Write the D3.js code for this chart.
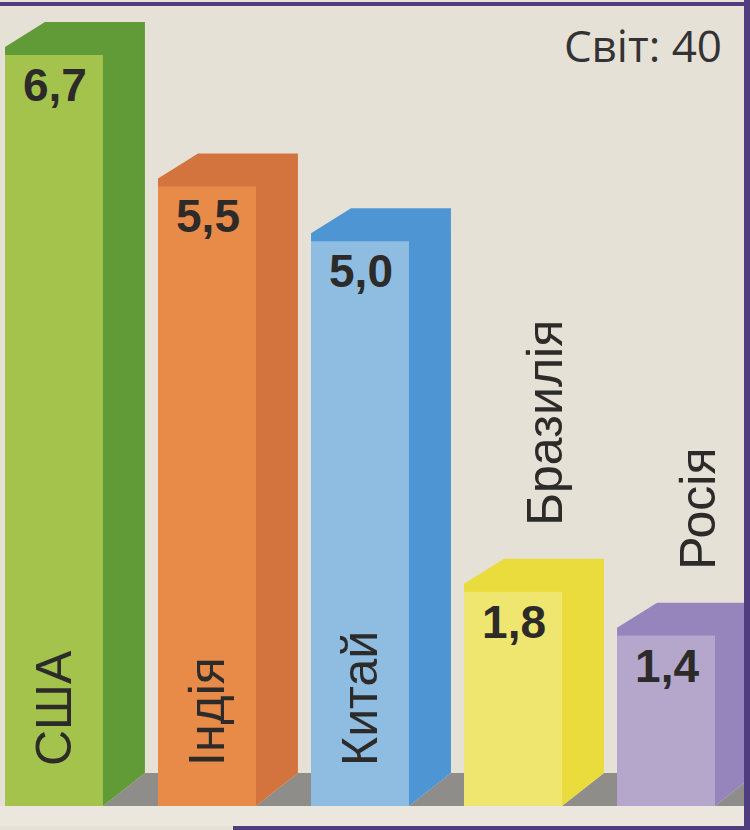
<!DOCTYPE html>
<html>
<head>
<meta charset="utf-8">
<script src="https://cdn.jsdelivr.net/npm/d3@7"></script>
<style>
  html, body { margin: 0; padding: 0; background: #e6e1d7; }
  #my_dataviz { width: 750px; height: 830px; }
</style>
</head>
<body>
<div id="my_dataviz"></div>
<script>
// data //
const countries = ["США", "Індія", "Китай", "Бразилія", "Росія"];
const values = [6.7, 5.5, 5.0, 1.8, 1.4];
const worldLabel = "Світ";
const worldTotal = 40;

// colours: light front face, darker side + top
const frontColors = ["#a4c34c", "#e98b48", "#8fbde2", "#eee66e", "#b5a7cc"];
const sideColors  = ["#619b37", "#d3743f", "#4e96d3", "#e9dc3c", "#9685bd"];

const data = countries.map((c, i) => ({ name: c, value: values[i], front: frontColors[i], side: sideColors[i] }));

/// set dimensions //////////////////////////////////////////////////
const width = 750;
const height = 830;
const base = 806;      // floor line (front bottom of the boxes)
const depthX = 42;     // 3d depth offset
const depthY = 33;

const svg = d3.select("#my_dataviz").append("svg")
  .attr("width", width)
  .attr("height", height);

// paper background
svg.append("rect")
  .attr("width", width)
  .attr("height", height)
  .attr("fill", "#e6e1d7");

// floor strip under the boxes
svg.append("rect")
  .attr("x", 0)
  .attr("y", base)
  .attr("width", width)
  .attr("height", 20)
  .attr("fill", "#ebe7df");

// X scale (front faces)
const x = d3.scaleBand()
  .domain(countries)
  .range([5, 715])
  .paddingInner(0.36)
  .paddingOuter(0);

// Y scale
const y = d3.scaleLinear()
  .domain([0, 6.7])
  .range([789, 55]);

const bw = x.bandwidth();
const gap = x.step() - bw;

// comma as decimal mark
const uk = d3.formatLocale({ decimal: ",", thousands: " ", grouping: [3], currency: ["", ""] });
const fmt = uk.format(".1f");

// floor shadows to the right of each box
svg.selectAll(".shadow")
  .data(data)
  .join("polygon")
  .attr("class", "shadow")
  .attr("fill", "#8f8d89")
  .attr("points", d => {
    const x1 = x(d.name) + bw;
    return [[x1, base], [x1 + depthX, base - depthY], [x1 + gap, base - depthY], [x1 + gap, base]].join(" ");
  });

const bars = svg.selectAll(".bar")
  .data(data)
  .join("g")
  .attr("class", "bar");

// dark silhouette (top + side)
bars.append("polygon")
  .attr("fill", d => d.side)
  .attr("points", d => {
    const x0 = x(d.name), x1 = x0 + bw, t = y(d.value);
    return [[x0, base], [x0, t - 8], [x0 + depthX - 2, t - depthY], [x1 + depthX, t - depthY],
            [x1 + depthX, base - depthY], [x1, base]].join(" ");
  });

// front face
bars.append("rect")
  .attr("fill", d => d.front)
  .attr("x", d => x(d.name))
  .attr("y", d => y(d.value))
  .attr("width", bw)
  .attr("height", d => base - y(d.value));

// value labels
bars.append("text")
  .attr("x", d => x(d.name) + 18)
  .attr("y", d => y(d.value) + 46)
  .attr("font-family", "'Liberation Sans', Arial, sans-serif")
  .attr("font-weight", "bold")
  .attr("font-size", 46)
  .attr("fill", "#2d2b2a")
  .text(d => fmt(d.value));

// country names, rotated; inside tall boxes, above short ones
bars.append("text")
  .attr("transform", d => d.value >= 3
    ? `translate(${x(d.name) + 66},766) rotate(-90)`
    : `translate(${x(d.name) + 98},${y(d.value) - 66}) rotate(-90)`)
  .attr("text-anchor", "start")
  .attr("font-family", "'Liberation Sans', Arial, sans-serif")
  .attr("font-size", 50)
  .attr("fill", "#2d2b2a")
  .text(d => d.name);

// world total, top right
svg.append("text")
  .attr("x", 722)
  .attr("y", 62)
  .attr("text-anchor", "end")
  .attr("font-family", "'Open Sans', sans-serif")
  .attr("font-size", 44)
  .attr("fill", "#333")
  .text(`${worldLabel}: ${worldTotal}`);

// purple page frame
svg.append("line")
  .attr("x1", 0).attr("x2", width).attr("y1", 4).attr("y2", 4)
  .attr("stroke", "#4f3d80").attr("stroke-width", 4);
svg.append("line")
  .attr("x1", 747).attr("x2", 747).attr("y1", 0).attr("y2", height)
  .attr("stroke", "#4f3d80").attr("stroke-width", 6);
svg.append("line")
  .attr("x1", 233).attr("x2", width).attr("y1", 828).attr("y2", 828)
  .attr("stroke", "#4f3d80").attr("stroke-width", 4);
</script>
</body>
</html>
